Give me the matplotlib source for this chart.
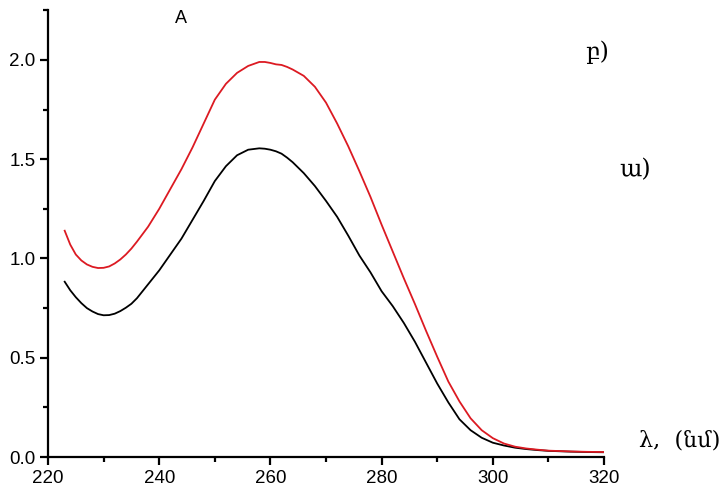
import matplotlib
matplotlib.use('Agg')
import matplotlib.pyplot as plt
from matplotlib.ticker import MultipleLocator, FormatStrFormatter

# wavelengths (nm)
wl = [223, 224, 225, 226, 227, 228, 229, 230, 231, 232, 233, 234, 235, 236,
      238, 240, 242, 244, 246, 248, 250, 252, 254, 256, 258, 259, 260, 261,
      262, 263, 264, 266, 268, 270, 272, 274, 276, 278, 280, 282, 284, 286,
      288, 290, 292, 294, 296, 298, 300, 302, 304, 306, 308, 310, 314, 317, 320]

# spectrum a) - black curve
abs_a = [0.883, 0.84, 0.805, 0.775, 0.75, 0.733, 0.72, 0.714, 0.715, 0.722,
         0.735, 0.752, 0.772, 0.80, 0.87, 0.94, 1.02, 1.10, 1.195, 1.29,
         1.39, 1.465, 1.52, 1.548, 1.555, 1.553, 1.548, 1.54, 1.528, 1.508,
         1.485, 1.43, 1.365, 1.29, 1.21, 1.115, 1.015, 0.93, 0.835, 0.76,
         0.675, 0.58, 0.475, 0.37, 0.275, 0.19, 0.135, 0.097, 0.072, 0.058,
         0.047, 0.04, 0.035, 0.031, 0.027, 0.025, 0.024]

# spectrum b) - red curve
abs_b = [1.14, 1.07, 1.02, 0.99, 0.97, 0.958, 0.952, 0.953, 0.96, 0.975,
         0.995, 1.02, 1.05, 1.085, 1.16, 1.25, 1.35, 1.45, 1.56, 1.68,
         1.80, 1.88, 1.935, 1.97, 1.99, 1.99, 1.985, 1.978, 1.975, 1.965,
         1.952, 1.92, 1.865, 1.785, 1.68, 1.565, 1.44, 1.31, 1.17, 1.035,
         0.90, 0.77, 0.635, 0.505, 0.38, 0.28, 0.195, 0.135, 0.095, 0.068,
         0.052, 0.043, 0.037, 0.032, 0.028, 0.026, 0.025]

fig = plt.figure(figsize=(7.24, 4.93), dpi=100)
ax = fig.add_axes([0.0663, 0.073, 0.768, 0.906])

ax.plot(wl, abs_a, color='black', lw=1.3)
ax.plot(wl, abs_b, color='#dc1a22', lw=1.3)

ax.set_xlim(220, 320)
ax.set_ylim(0, 2.25)
ax.xaxis.set_major_locator(MultipleLocator(20))
ax.xaxis.set_minor_locator(MultipleLocator(10))
ax.yaxis.set_major_locator(MultipleLocator(0.5))
ax.yaxis.set_minor_locator(MultipleLocator(0.25))
ax.yaxis.set_major_formatter(FormatStrFormatter('%.1f'))

for s in ['top', 'right']:
    ax.spines[s].set_visible(False)
for s in ['left', 'bottom']:
    ax.spines[s].set_linewidth(1.6)

ax.tick_params(which='major', direction='out', length=6, width=1.6,
               labelsize=13.5, pad=3)
ax.tick_params(which='minor', direction='out', length=3.5, width=1.6)
for lab in ax.get_xticklabels() + ax.get_yticklabels():
    lab.set_family('Liberation Sans')

fig.text(0.25, 0.963, 'A', fontsize=13, family='Liberation Sans',
         ha='center', va='center')
fig.text(0.8246, 0.894, 'բ)', fontsize=17, family='DejaVu Serif',
         ha='center', va='center')
fig.text(0.877, 0.655, 'ա)', fontsize=17, family='DejaVu Serif',
         ha='center', va='center')
fig.text(0.939, 0.1075, 'λ,  (նմ)', fontsize=16, family='DejaVu Serif',
         ha='center', va='center')

fig.savefig('out.png', dpi=100)
